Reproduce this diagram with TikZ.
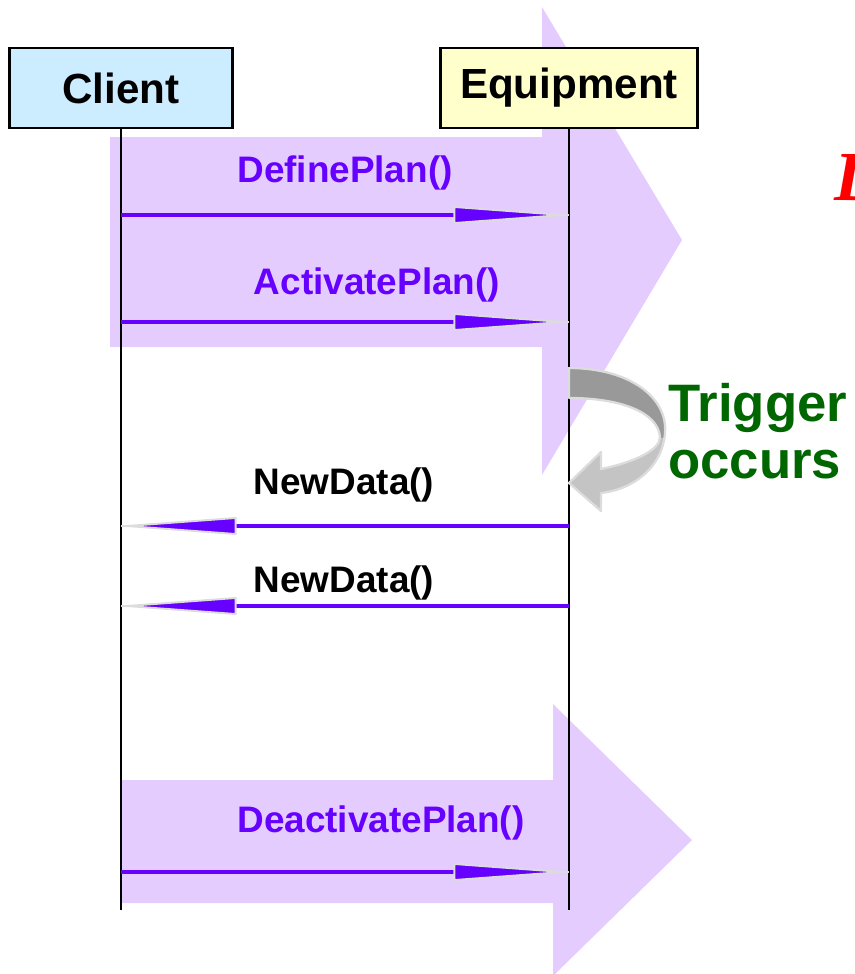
\documentclass[tikz,border=0pt]{standalone}
\usepackage{fontspec}
\setmainfont{Liberation Sans}
\newfontfamily\redfont{Liberation Serif}
\usetikzlibrary{arrows.meta}
\definecolor{lilac}{HTML}{E5CCFF}
\definecolor{callpurple}{HTML}{6600FF}
\definecolor{clientblue}{HTML}{CCECFF}
\definecolor{equipyellow}{HTML}{FFFFCC}
\definecolor{halogray}{HTML}{DCDCDC}
\definecolor{trigdark}{HTML}{999999}
\definecolor{triglight}{HTML}{C4C4C4}
\definecolor{triggreen}{HTML}{006600}

\begin{document}
\begin{tikzpicture}[x=0.02cm, y=-0.02cm]
\tikzstyle{actor} = [draw=black, line width=1.2pt, minimum height=1.6cm, inner sep=0, font=\fontsize{24}{28}\selectfont\bfseries]
\tikzstyle{life} = [draw=black, line width=1.1pt]
\tikzstyle{halo} = [draw=halogray, line width=1.3pt]
\tikzstyle{call} = [draw=callpurple, line width=2.6pt, shorten >=3pt, -{Triangle[length=70pt, width=10pt, round, color=halogray, fill=callpurple, line width=1.1pt]}]
\tikzstyle{lbl} = [inner sep=0, font=\fontsize{21}{25}\selectfont\bfseries]
\tikzstyle{band} = [fill=lilac]
\tikzstyle{trig} = [inner sep=0, anchor=base west, text=triggreen, font=\fontsize{30}{32}\selectfont\bfseries]

\useasboundingbox (0,0) rectangle (855,974);
\clip (0,0) rectangle (855,974);

% big background arrows
\fill[band] (110,137) -- (542,137) -- (542,7) -- (682,240) -- (542,475) -- (542,347) -- (110,347) -- cycle;
\fill[band] (122,780) -- (553,780) -- (553,704) -- (692,840) -- (553,976) -- (553,903) -- (122,903) -- cycle;

% actors and lifelines
\node[actor, fill=clientblue, minimum width=4.46cm] (client) at (121,88) {Client};
\node[actor, fill=equipyellow, minimum width=5.14cm] (equip) at (569,88) {Equipment};
\coordinate (cend) at (121,910);
\coordinate (eend) at (569,910);
\draw[life] (client) -- (cend);
\draw[life] (equip) -- (eend);

% points on the lifelines
\coordinate (c1) at (121,215); \coordinate (e1) at (569,215);
\coordinate (c2) at (121,322); \coordinate (e2) at (569,322);
\coordinate (c3) at (121,526); \coordinate (e3) at (569,526);
\coordinate (c4) at (121,606); \coordinate (e4) at (569,606);
\coordinate (c5) at (121,872); \coordinate (e5) at (569,872);

% messages
\draw[halo] (c1) -- (e1);
\draw[call] (c1) -- (e1);
\draw[halo] (c2) -- (e2);
\draw[call] (c2) -- (e2);
\draw[halo] (e3) -- (c3);
\draw[call] (e3) -- (c3);
\draw[halo] (e4) -- (c4);
\draw[call] (e4) -- (c4);
\draw[halo] (c5) -- (e5);
\draw[call] (c5) -- (e5);

\node[lbl, text=callpurple] (define) at (345,173) {DefinePlan()};
\node[lbl, text=callpurple] (activate) at (377,285) {ActivatePlan()};
\node[lbl] (data1) at (344,485) {NewData()};
\node[lbl] (data2) at (344,583) {NewData()};
\node[lbl, text=callpurple] (deactivate) at (381,823) {DeactivatePlan()};

% trigger loop
\def\triggerpath{(569,368) .. controls (630,368) and (668,398) .. (665,433)
  .. controls (662,470) and (630,490) .. (601,493) -- (601,511) -- (569,483)
  -- (601,452) -- (601,469) .. controls (635,462) and (660,450) .. (660,437)
  .. controls (658,412) and (620,398) .. (569,398) -- cycle}
\fill[triglight] \triggerpath;
\begin{scope}
\clip (560,360) rectangle (690,437);
\fill[trigdark] \triggerpath;
\end{scope}
\draw[halogray, line width=1.3pt, line join=round] \triggerpath;

\node[trig] (trigger) at (668,421) {Trigger};
\node[trig] (occurs) at (668,478) {occurs};

\node[inner sep=0, anchor=base west, text=red, font=\redfont\bfseries\itshape\fontsize{40}{44}\selectfont] (redmark) at (834,200) {D};
\end{tikzpicture}
\end{document}
